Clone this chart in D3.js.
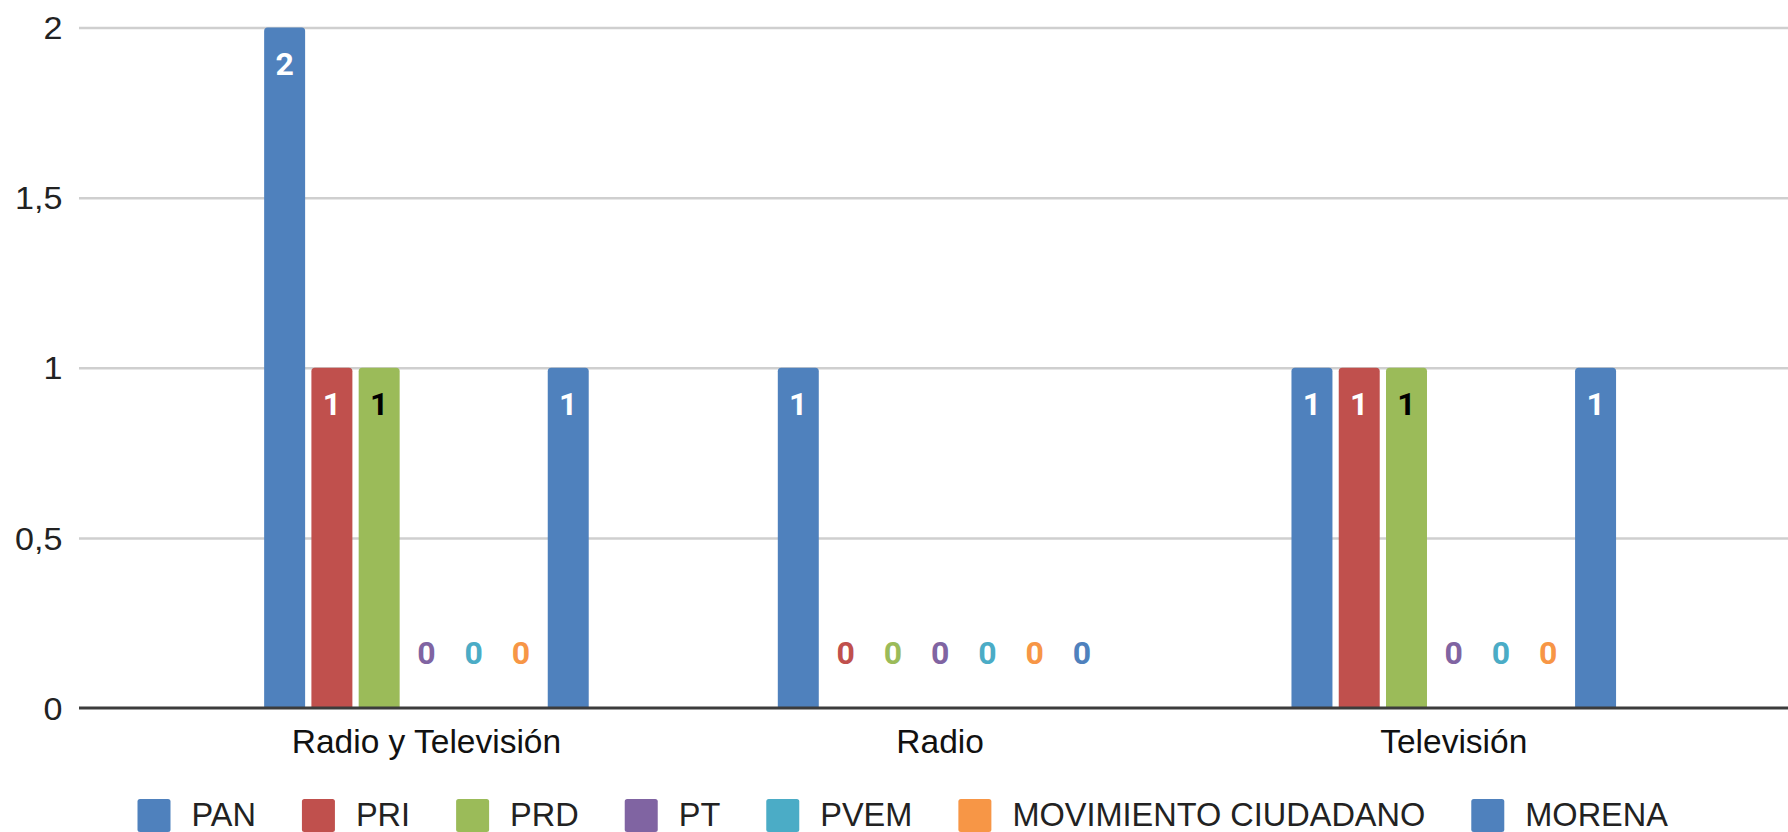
<!DOCTYPE html>
<html>
<head>
<meta charset="utf-8">
<script src="https://cdn.jsdelivr.net/npm/d3@7"></script>
<style>
  html, body { margin: 0; padding: 0; background: #ffffff; }
  svg { display: block; }
</style>
</head>
<body>
<svg id="chart" width="1788" height="832"></svg>
<script>
const categories = ["Radio y Televisión", "Radio", "Televisión"];
const series = ["PAN", "PRI", "PRD", "PT", "PVEM", "MOVIMIENTO CIUDADANO", "MORENA"];
const colors = ["#4f81bd", "#c0504d", "#9bbb59", "#8064a2", "#4bacc6", "#f79646", "#4f81bd"];
const insideLabelColors = ["#ffffff", "#ffffff", "#000000", "#ffffff", "#ffffff", "#000000", "#ffffff"];
const valuesPAN = [2, 1, 1];
const valuesPRI = [1, 0, 1];
const valuesPRD = [1, 0, 1];
const valuesPT = [0, 0, 0];
const valuesPVEM = [0, 0, 0];
const valuesMC = [0, 0, 0];
const valuesMORENA = [1, 0, 1];
const yTicks = [0, 0.5, 1, 1.5, 2];
const yTickLabels = ["0", "0,5", "1", "1,5", "2"];

const seriesValues = [valuesPAN, valuesPRI, valuesPRD, valuesPT, valuesPVEM, valuesMC, valuesMORENA];

const W = 1788, H = 832;
const plotLeft = 79, plotRight = 1788;
const svg = d3.select("#chart");
svg.append("rect").attr("width", W).attr("height", H).attr("fill", "#ffffff");

const x0 = d3.scaleBand().domain(categories).range([169.6, 1710.6]).paddingInner(0).paddingOuter(0);
const x1 = d3.scaleBand().domain(series).range([0, x0.bandwidth()]).paddingInner(0.133).paddingOuter(2.0);
const y = d3.scaleLinear().domain([0, 2]).range([708, 27.5]);

const AXFONT = "'Liberation Sans', Arial, sans-serif";

// gridlines + y tick labels
const tickStretch = 1.1;
const yAxis = d3.axisLeft(y).tickValues(yTicks).tickSize(-(plotRight - plotLeft))
  .tickFormat((d, i) => yTickLabels[i]).tickPadding(17);
const gy = svg.append("g").attr("transform", `translate(${plotLeft},0)`).call(yAxis);
gy.select(".domain").remove();
gy.selectAll(".tick line").attr("stroke", "#cfcfcf").attr("stroke-width", 2.5);
gy.selectAll(".tick text").attr("font-family", AXFONT).attr("font-size", 31)
  .attr("fill", "#222222").attr("dy", "0.36em")
  .attr("x", -16.5 / tickStretch).attr("transform", `scale(${tickStretch},1)`);
gy.selectAll(".tick").filter(d => d === 0).select("line").attr("stroke", "none");

// bars
const rows = [];
categories.forEach((c, ci) => {
  series.forEach((s, si) => {
    rows.push({ cat: c, ser: s, si: si, v: seriesValues[si][ci] });
  });
});

function roundTopRect(x, yTop, w, h, r) {
  r = Math.min(r, w / 2, h);
  return `M${x},${yTop + h}V${yTop + r}Q${x},${yTop} ${x + r},${yTop}H${x + w - r}Q${x + w},${yTop} ${x + w},${yTop + r}V${yTop + h}Z`;
}

const gBars = svg.append("g");
gBars.selectAll("path.bar").data(rows.filter(d => d.v > 0)).join("path")
  .attr("class", "bar")
  .attr("d", d => roundTopRect(x0(d.cat) + x1(d.ser), y(d.v), x1.bandwidth(), y(0) - y(d.v), 3.5))
  .attr("fill", d => colors[d.si]);

// x axis
const xAxis = d3.axisBottom(x0).tickSize(0).tickPadding(21);
const gx = svg.append("g").attr("transform", `translate(0,${y(0)})`).call(xAxis);
gx.select(".domain").remove();
gx.selectAll(".tick text").attr("font-family", AXFONT).attr("font-size", 33.5).attr("fill", "#111111").attr("dy", "0.71em");
svg.append("line").attr("x1", plotLeft).attr("x2", plotRight).attr("y1", y(0)).attr("y2", y(0))
  .attr("stroke", "#3c3c3c").attr("stroke-width", 2.8);

// data labels
const LBLFONT = "Roboto, 'Liberation Sans', Arial, sans-serif";
svg.append("g").selectAll("text").data(rows).join("text")
  .attr("x", d => x0(d.cat) + x1(d.ser) + x1.bandwidth() / 2)
  .attr("y", d => d.v > 0 ? y(d.v) + 47 : y(0) - 44)
  .attr("text-anchor", "middle")
  .attr("font-family", LBLFONT).attr("font-weight", "bold").attr("font-size", 32)
  .attr("fill", d => d.v > 0 ? insideLabelColors[d.si] : colors[d.si])
  .text(d => d.v);

// legend
const legendStart = 137.5;
const sq = 33, gapText = 21, gapItem = 46;
const gLeg = svg.append("g");
const items = gLeg.selectAll("g").data(series).join("g");
items.append("rect").attr("width", sq).attr("height", sq).attr("rx", 2.5)
  .attr("y", 799).attr("fill", (d, i) => colors[i]);
items.append("text").attr("x", sq + gapText).attr("y", 826)
  .attr("font-family", AXFONT).attr("font-size", 32.5).attr("fill", "#222222")
  .text(d => d);
let widths = [];
items.each(function () { widths.push(d3.select(this).select("text").node().getComputedTextLength()); });
let cx = legendStart;
items.attr("transform", (d, i) => {
  const t = `translate(${cx},0)`;
  cx += sq + gapText + widths[i] + gapItem;
  return t;
});
</script>
</body>
</html>
